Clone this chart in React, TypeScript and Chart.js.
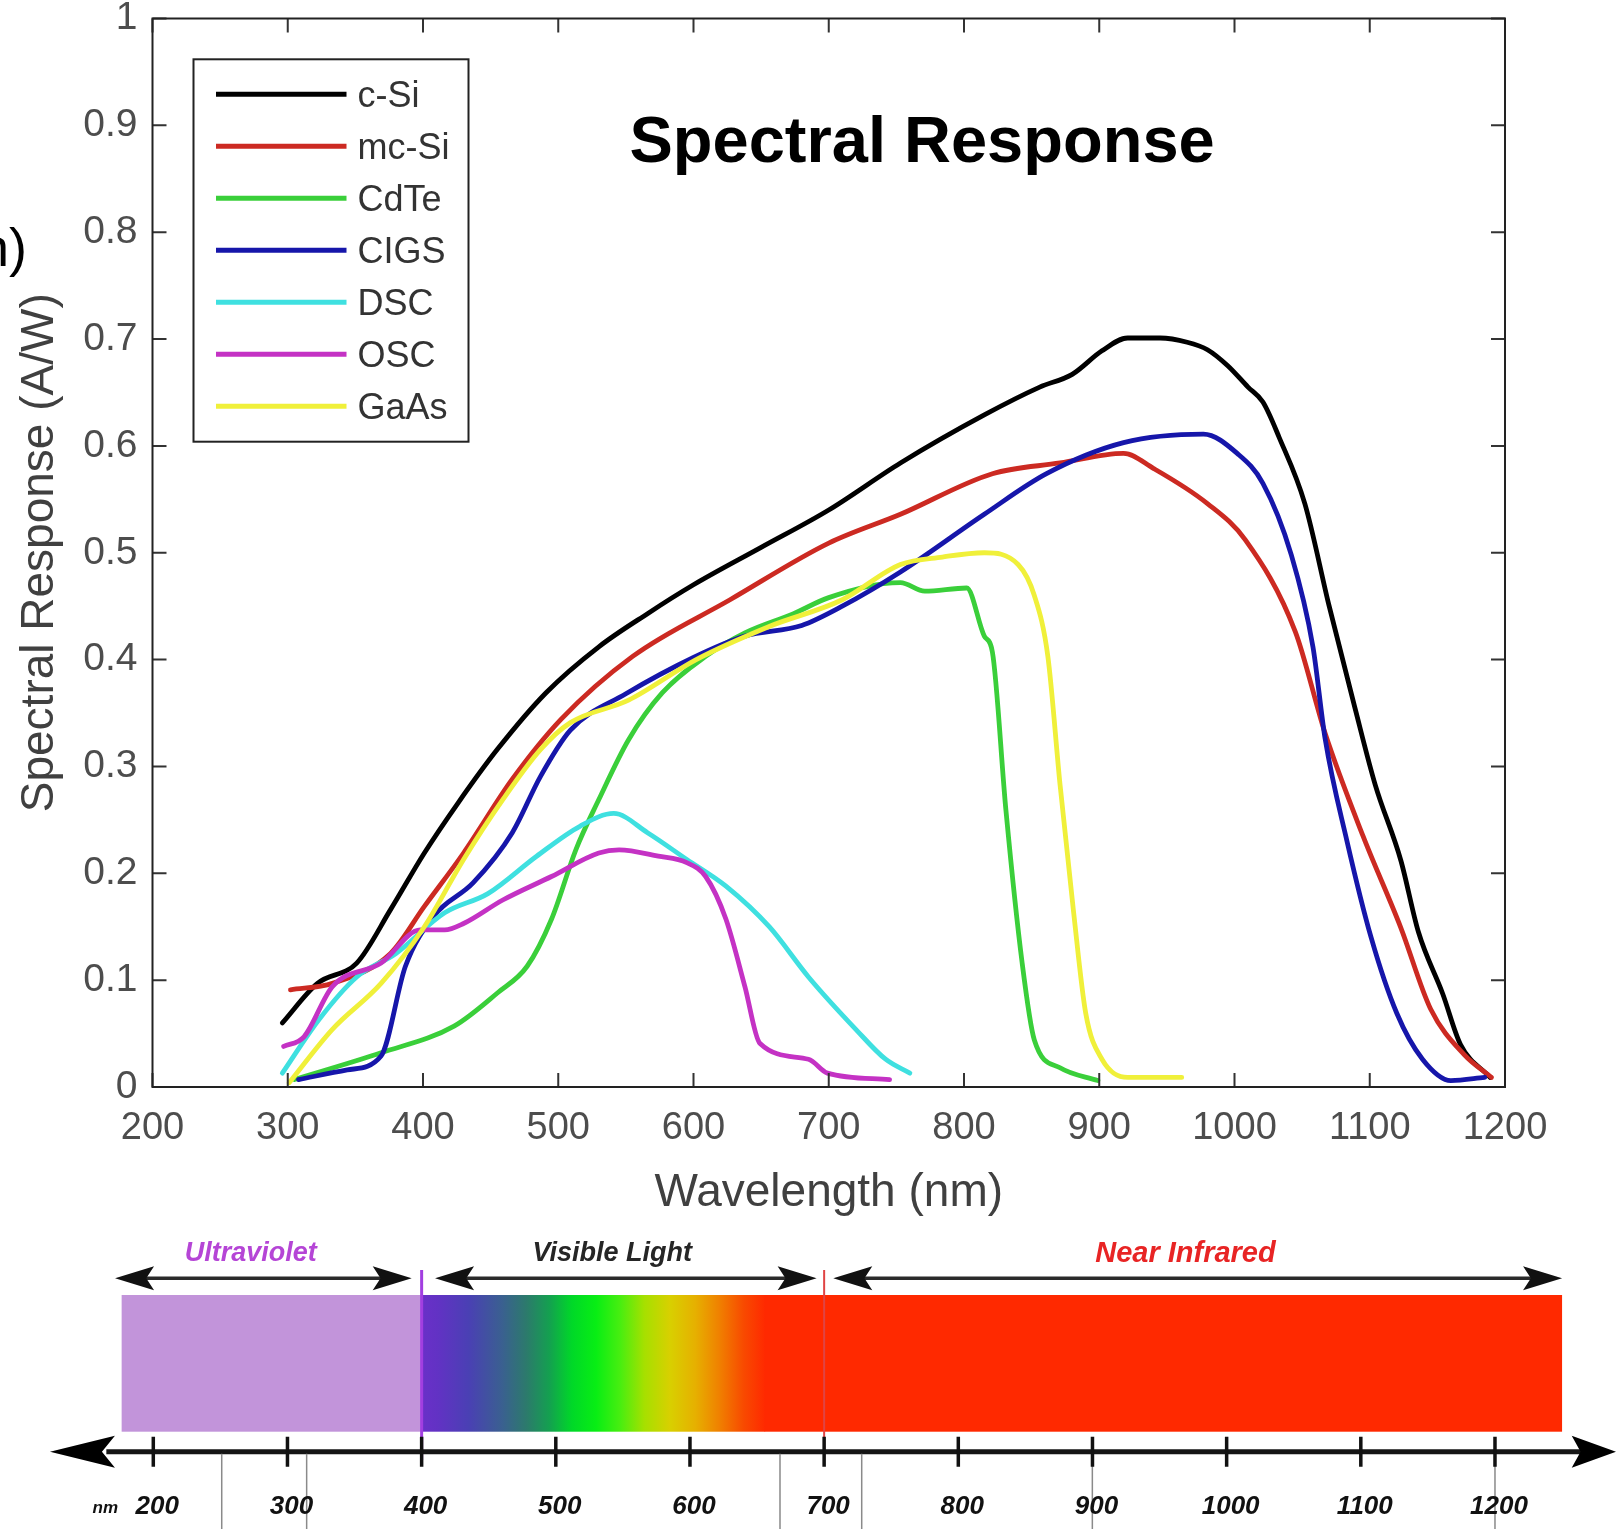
import React, { useEffect, useRef } from "react";
import { Chart, registerables } from "chart.js";

Chart.register(...registerables);

// ---------------- data ----------------
const seriesNames = ["c-Si", "mc-Si", "CdTe", "CIGS", "DSC", "OSC", "GaAs"];
const seriesColors = ["#000000", "#cc2a22", "#3acf3a", "#1616aa", "#3fe0e0", "#c432c4", "#f0f03a"];

const cSiX = [296, 322, 351, 376, 401, 426, 455, 491, 530, 566, 600, 650, 700, 753, 815, 856, 880, 902, 921, 945, 965, 980, 995, 1010, 1021, 1033, 1052, 1070, 1089, 1104, 1123, 1136, 1154, 1167, 1189];
const cSiY = [0.060, 0.097, 0.116, 0.166, 0.219, 0.266, 0.316, 0.369, 0.412, 0.443, 0.470, 0.505, 0.540, 0.584, 0.629, 0.655, 0.667, 0.689, 0.701, 0.701, 0.697, 0.690, 0.675, 0.655, 0.641, 0.608, 0.546, 0.450, 0.355, 0.283, 0.212, 0.145, 0.087, 0.040, 0.009];

const mcSiX = [302, 333, 376, 401, 430, 466, 502, 555, 627, 700, 753, 821, 871, 918, 940, 980, 1008, 1045, 1067, 1095, 1123, 1145, 1170, 1190];
const mcSiY = [0.091, 0.097, 0.125, 0.169, 0.219, 0.288, 0.344, 0.403, 0.456, 0.509, 0.536, 0.574, 0.584, 0.593, 0.579, 0.546, 0.512, 0.426, 0.331, 0.235, 0.149, 0.073, 0.030, 0.009];

const cdTeX = [305, 369, 423, 455, 477, 495, 513, 530, 552, 577, 609, 638, 674, 700, 753, 771, 802, 815, 821, 831, 843, 852, 871, 899];
const cdTeY = [0.007, 0.032, 0.057, 0.088, 0.113, 0.157, 0.222, 0.269, 0.325, 0.369, 0.403, 0.425, 0.443, 0.458, 0.472, 0.464, 0.467, 0.422, 0.407, 0.259, 0.116, 0.044, 0.018, 0.006];

const cigsX = [308, 344, 369, 387, 408, 437, 466, 487, 509, 550, 600, 638, 680, 710, 753, 815, 861, 918, 977, 1002, 1021, 1042, 1058, 1067, 1083, 1101, 1120, 1139, 1160, 1185];
const cigsY = [0.007, 0.016, 0.029, 0.113, 0.160, 0.191, 0.238, 0.291, 0.334, 0.368, 0.402, 0.422, 0.432, 0.450, 0.482, 0.536, 0.574, 0.603, 0.611, 0.593, 0.565, 0.498, 0.412, 0.326, 0.231, 0.140, 0.069, 0.026, 0.006, 0.009];

const dscX = [296, 323, 351, 380, 416, 448, 484, 516, 541, 566, 595, 624, 656, 685, 720, 742, 760];
const dscY = [0.013, 0.063, 0.103, 0.125, 0.163, 0.181, 0.216, 0.244, 0.256, 0.238, 0.213, 0.188, 0.150, 0.103, 0.054, 0.026, 0.013];

const oscX = [297, 312, 333, 369, 398, 416, 430, 459, 495, 530, 545, 574, 595, 609, 624, 638, 649, 685, 699, 745];
const oscY = [0.038, 0.047, 0.094, 0.116, 0.147, 0.147, 0.153, 0.175, 0.197, 0.219, 0.222, 0.216, 0.210, 0.197, 0.157, 0.094, 0.041, 0.026, 0.013, 0.007];

const gaAsX = [301, 333, 369, 401, 430, 459, 487, 509, 552, 602, 656, 710, 753, 784, 815, 840, 852, 862, 871, 881, 890, 902, 921, 961];
const gaAsY = [0.004, 0.054, 0.097, 0.150, 0.213, 0.269, 0.316, 0.341, 0.362, 0.400, 0.431, 0.456, 0.489, 0.496, 0.500, 0.489, 0.460, 0.403, 0.283, 0.164, 0.069, 0.026, 0.009, 0.009];

const seriesX = [cSiX, mcSiX, cdTeX, cigsX, dscX, oscX, gaAsX];
const seriesY = [cSiY, mcSiY, cdTeY, cigsY, dscY, oscY, gaAsY];

const xTickValues = [200, 300, 400, 500, 600, 700, 800, 900, 1000, 1100, 1200];
const xTickLabels = ["200", "300", "400", "500", "600", "700", "800", "900", "1000", "1100", "1200"];
const yTickValues = [0, 0.1, 0.2, 0.3, 0.4, 0.5, 0.6, 0.7, 0.8, 0.9, 1];
const yTickLabels = ["0", "0.1", "0.2", "0.3", "0.4", "0.5", "0.6", "0.7", "0.8", "0.9", "1"];

// spectrum band (bottom)
const bandRegions = ["Ultraviolet", "Visible Light", "Near Infrared"];
const bandRegionColors = ["#b545d6", "#262626", "#e82424"];
const bandArrowStart = [171.5, 410, 706.8];
const bandArrowEnd = [392.6, 694.4, 1250];
const bandLabelCenter = [272.7, 542, 969.3];
const bandStart = 176.4;
const bandEnd = 1250;
const bandBoundaries = [400, 700];
const bandBoundaryColors = ["#a23ee0", "#e04444"];
const spectrumStopNm = [400, 412, 435, 460, 478, 495, 512, 530, 548, 566, 585, 604, 622, 640, 656];
const spectrumStopColor = ["#6a30c8", "#6232c4", "#4a40b4", "#3a6090", "#2c7a6c", "#14a050", "#00d828", "#08ee14", "#48ee10", "#a6e000", "#d8d000", "#e6b000", "#f08000", "#f84a00", "#ff2a00"];
const bandTickValues = [200, 300, 400, 500, 600, 700, 800, 900, 1000, 1100, 1200];
const bandTickLabels = ["200", "300", "400", "500", "600", "700", "800", "900", "1000", "1100", "1200"];
const bandGuideLines = [251, 314.3, 667.1, 728, 899.9, 1200];

const FONT = '"Liberation Sans", Arial, Helvetica, sans-serif';

// ---------------- plugins ----------------
const framePlugin = {
  id: "frame",
  afterDraw(chart: any) {
    const { ctx, chartArea: a, scales } = chart;
    const x = scales.x;
    const y = scales.y;
    ctx.save();
    // ticks (inward, all four sides)
    ctx.strokeStyle = "#333333";
    ctx.lineWidth = 2;
    ctx.beginPath();
    const tl = 14;
    xTickValues.forEach((v) => {
      const px = x.getPixelForValue(v);
      ctx.moveTo(px, a.bottom);
      ctx.lineTo(px, a.bottom - tl);
      ctx.moveTo(px, a.top);
      ctx.lineTo(px, a.top + tl);
    });
    yTickValues.forEach((v) => {
      const py = y.getPixelForValue(v);
      ctx.moveTo(a.left, py);
      ctx.lineTo(a.left + tl, py);
      ctx.moveTo(a.right, py);
      ctx.lineTo(a.right - tl, py);
    });
    ctx.stroke();
    // box
    ctx.strokeStyle = "#222222";
    ctx.lineWidth = 2;
    ctx.strokeRect(a.left, a.top, a.right - a.left, a.bottom - a.top);

    // title
    const w = a.right - a.left;
    ctx.fillStyle = "#000000";
    ctx.font = `bold 65px ${FONT}`;
    ctx.textAlign = "center";
    ctx.textBaseline = "alphabetic";
    ctx.fillText("Spectral Response", a.left + 0.569 * w, a.top + 143.2);

    // legend
    const lx = a.left + 41;
    const ly = a.top + 40.8;
    const lw = 275;
    const lh = 382.4;
    ctx.fillStyle = "#ffffff";
    ctx.fillRect(lx, ly, lw, lh);
    ctx.strokeStyle = "#222222";
    ctx.lineWidth = 2;
    ctx.strokeRect(lx, ly, lw, lh);
    ctx.font = `36px ${FONT}`;
    ctx.textAlign = "left";
    ctx.textBaseline = "middle";
    chart.data.datasets.forEach((ds: any, i: number) => {
      const ry = ly + 35 + i * 52;
      ctx.strokeStyle = ds.borderColor;
      ctx.lineWidth = 5;
      ctx.lineCap = "butt";
      ctx.beginPath();
      ctx.moveTo(lx + 22.5, ry);
      ctx.lineTo(lx + 153, ry);
      ctx.stroke();
      ctx.fillStyle = "#333333";
      ctx.fillText(ds.label, lx + 164, ry + 3);
    });

    // stray fragment at the left edge
    ctx.fillStyle = "#000000";
    ctx.font = `54px ${FONT}`;
    ctx.textAlign = "right";
    ctx.textBaseline = "alphabetic";
    ctx.fillText("n)", 27, 266);
    ctx.restore();
  },
};

function arrowHead(ctx: CanvasRenderingContext2D, tipX: number, baseX: number, y: number, half: number) {
  ctx.beginPath();
  ctx.moveTo(tipX, y);
  ctx.lineTo(baseX, y - half);
  ctx.lineTo(baseX + (tipX - baseX) * 0.2, y);
  ctx.lineTo(baseX, y + half);
  ctx.closePath();
  ctx.fill();
}

const bandPlugin = {
  id: "band",
  afterDraw(chart: any) {
    const { ctx, chartArea: a, scales } = chart;
    const x = scales.x;
    const X = (v: number) => x.getPixelForValue(v);
    const t = a.top;
    ctx.save();

    // spectrum band
    const bTop = t + 65;
    const bH = 136.7;
    ctx.fillStyle = "#c294da";
    ctx.fillRect(X(bandStart), bTop, X(400) - X(bandStart), bH);
    const g0 = X(spectrumStopNm[0]);
    const g1 = X(spectrumStopNm[spectrumStopNm.length - 1]);
    const grad = ctx.createLinearGradient(g0, 0, g1, 0);
    spectrumStopNm.forEach((nm, i) => {
      grad.addColorStop((X(nm) - g0) / (g1 - g0), spectrumStopColor[i]);
    });
    ctx.fillStyle = grad;
    ctx.fillRect(g0, bTop, g1 - g0, bH);
    ctx.fillStyle = "#ff2900";
    ctx.fillRect(g1 - 0.5, bTop, X(bandEnd) - g1 + 0.5, bH);

    // region boundaries
    bandBoundaries.forEach((v, i) => {
      ctx.strokeStyle = bandBoundaryColors[i];
      ctx.lineWidth = i === 0 ? 3 : 2;
      ctx.beginPath();
      ctx.moveTo(X(v), t + 40);
      ctx.lineTo(X(v), t + 230);
      ctx.stroke();
    });

    // region arrows + labels
    const ay = t + 48.3;
    bandRegions.forEach((name, i) => {
      const s = X(bandArrowStart[i]);
      const e = X(bandArrowEnd[i]);
      ctx.strokeStyle = "#2a2a2a";
      ctx.fillStyle = "#111111";
      ctx.lineWidth = 3.5;
      ctx.beginPath();
      ctx.moveTo(s + 10, ay);
      ctx.lineTo(e - 10, ay);
      ctx.stroke();
      arrowHead(ctx, s, s + 39, ay, 12);
      arrowHead(ctx, e, e - 39, ay, 12);
      ctx.fillStyle = bandRegionColors[i];
      ctx.font = `italic bold ${i === 2 ? 29 : 27}px ${FONT}`;
      ctx.textAlign = "center";
      ctx.textBaseline = "middle";
      ctx.fillText(name, X(bandLabelCenter[i]), t + 24);
    });

    // wavelength axis with arrows
    const axY = t + 221.7;
    ctx.strokeStyle = "#151515";
    ctx.lineWidth = 5;
    ctx.beginPath();
    ctx.moveTo(X(165), axY);
    ctx.lineTo(X(1265), axY);
    ctx.stroke();
    ctx.fillStyle = "#000000";
    arrowHead(ctx, X(123), X(171.4), axY, 16);
    arrowHead(ctx, X(1290.2), X(1257.2), axY, 16);

    // guide lines below the axis
    ctx.strokeStyle = "#8a8a8a";
    ctx.lineWidth = 1.5;
    ctx.beginPath();
    bandGuideLines.forEach((v) => {
      ctx.moveTo(X(v), axY + 2);
      ctx.lineTo(X(v), a.bottom);
    });
    ctx.stroke();

    // ticks
    ctx.strokeStyle = "#111111";
    ctx.lineWidth = 3.5;
    ctx.beginPath();
    bandTickValues.forEach((v) => {
      ctx.moveTo(X(v), t + 206.7);
      ctx.lineTo(X(v), t + 236.7);
    });
    ctx.stroke();

    // tick labels
    ctx.fillStyle = "#111111";
    ctx.textAlign = "center";
    ctx.textBaseline = "middle";
    ctx.font = `italic bold 26px ${FONT}`;
    bandTickValues.forEach((v, i) => {
      ctx.fillText(bandTickLabels[i], X(v) + 4, t + 277);
    });
    ctx.font = `italic bold 17px ${FONT}`;
    ctx.fillText("nm", X(bandTickValues[0]) - 48, t + 278);
    ctx.restore();
  },
};

export default function App() {
  const mainRef = useRef<HTMLCanvasElement | null>(null);
  const bandRef = useRef<HTMLCanvasElement | null>(null);

  useEffect(() => {
    if (!mainRef.current || !bandRef.current) return;
    const datasets = seriesNames.map((name, i) => ({
      label: name,
      data: seriesX[i].map((xv, j) => ({ x: xv, y: seriesY[i][j] })),
      borderColor: seriesColors[i],
      backgroundColor: seriesColors[i],
      borderWidth: 4.8,
      pointRadius: 0,
      fill: false,
      cubicInterpolationMode: "monotone" as const,
      borderJoinStyle: "round" as const,
      borderCapStyle: "round" as const,
      order: seriesNames.length - i,
    }));

    const main = new Chart(mainRef.current, {
      type: "line",
      data: { datasets },
      options: {
        animation: false,
        responsive: false,
        devicePixelRatio: 1,
        layout: { padding: { left: 0, top: 18.5, right: 111, bottom: 0 } },
        plugins: { legend: { display: false }, tooltip: { enabled: false }, title: { display: false } },
        scales: {
          x: {
            type: "linear",
            min: 200,
            max: 1200,
            afterBuildTicks: (s: any) => {
              s.ticks = xTickValues.map((v) => ({ value: v }));
            },
            afterFit: (s: any) => {
              s.height = 143;
              s.paddingLeft = 0;
              s.paddingRight = 0;
            },
            grid: { display: false, drawTicks: false },
            border: { display: false },
            ticks: {
              padding: 19,
              color: "#4d4d4d",
              font: { family: FONT, size: 38 },
              autoSkip: false,
              maxRotation: 0,
              callback: (_v: any, i: number) => xTickLabels[i],
            },
            title: {
              display: true,
              text: "Wavelength (nm)",
              color: "#404040",
              font: { family: FONT, size: 46 },
              padding: { top: 0, bottom: 9 },
            },
          },
          y: {
            type: "linear",
            min: 0,
            max: 1,
            afterBuildTicks: (s: any) => {
              s.ticks = yTickValues.map((v) => ({ value: v }));
            },
            afterFit: (s: any) => {
              s.width = 152.5;
              s.paddingTop = 0;
              s.paddingBottom = 0;
            },
            grid: { display: false, drawTicks: false },
            border: { display: false },
            ticks: {
              padding: 15,
              color: "#4d4d4d",
              font: { family: FONT, size: 39 },
              autoSkip: false,
              callback: (_v: any, i: number) => yTickLabels[i],
            },
            title: {
              display: true,
              text: "Spectral Response (A/W)",
              color: "#404040",
              font: { family: FONT, size: 46 },
              padding: { top: 13, bottom: 0 },
            },
          },
        },
      },
      plugins: [framePlugin],
    } as any);

    const band = new Chart(bandRef.current, {
      type: "line",
      data: { datasets: [] },
      options: {
        animation: false,
        responsive: false,
        devicePixelRatio: 1,
        layout: { padding: 0 },
        plugins: { legend: { display: false }, tooltip: { enabled: false } },
        scales: {
          x: { type: "linear", min: 85.74, max: 1290.2, display: false },
          y: { type: "linear", min: 0, max: 1, display: false },
        },
      },
      plugins: [bandPlugin],
    } as any);

    return () => {
      main.destroy();
      band.destroy();
    };
  }, []);

  return (
    <div style={{ position: "absolute", left: 0, top: 0, width: 1616, height: 1529, background: "#ffffff", overflow: "hidden" }}>
      <canvas ref={mainRef} width={1616} height={1230} style={{ position: "absolute", left: 0, top: 0, width: 1616, height: 1230, display: "block" }} />
      <canvas ref={bandRef} width={1616} height={299} style={{ position: "absolute", left: 0, top: 1230, width: 1616, height: 299, display: "block" }} />
    </div>
  );
}
